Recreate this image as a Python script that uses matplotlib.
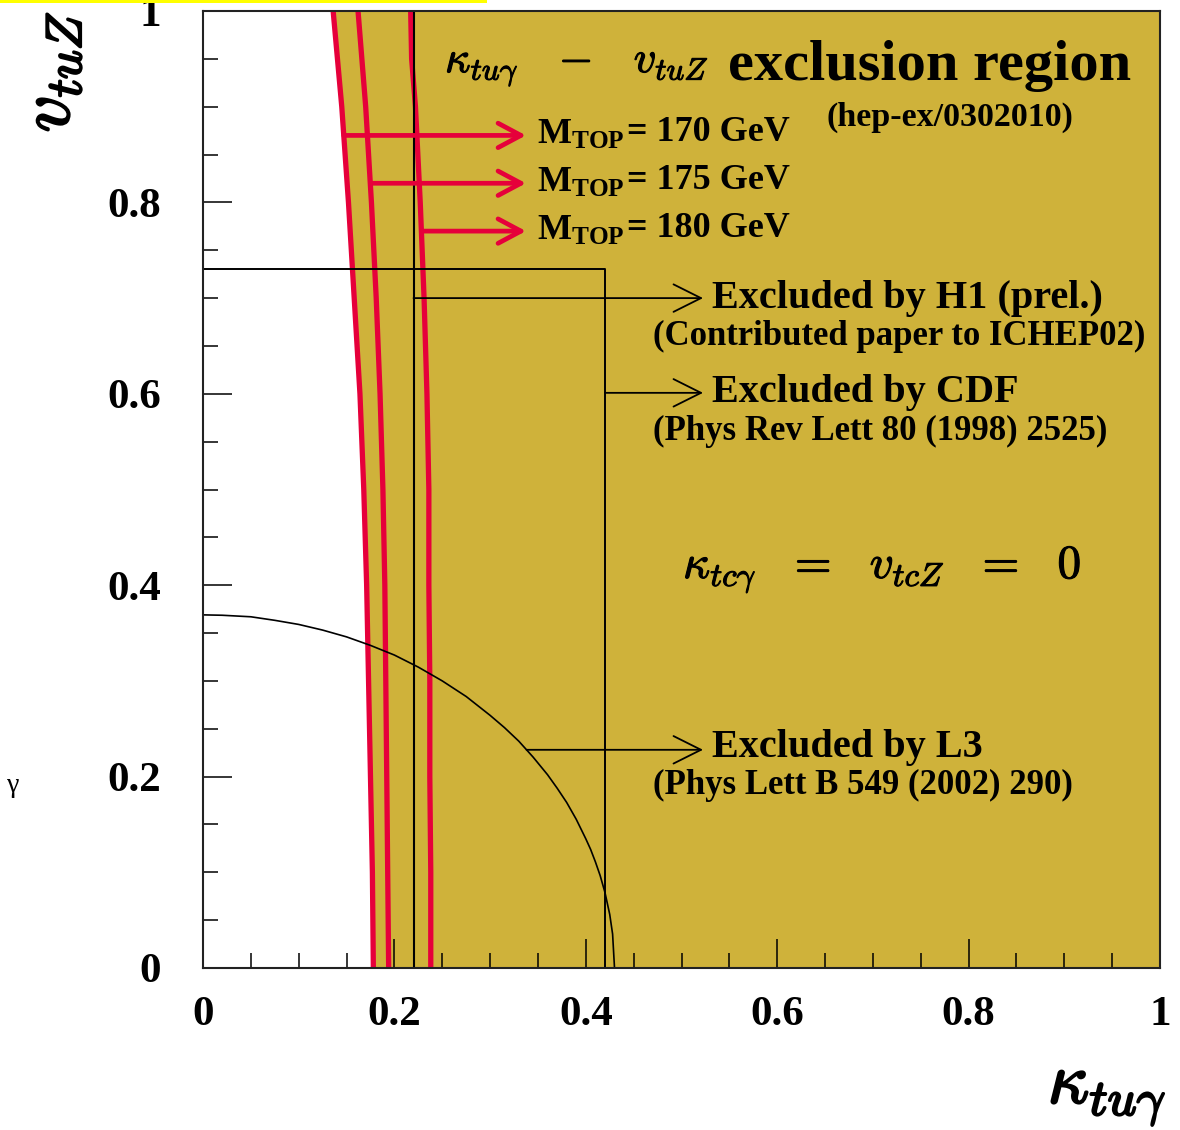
import matplotlib
matplotlib.use("Agg")
import matplotlib.pyplot as plt
import matplotlib.patheffects as pe
from matplotlib.patches import Rectangle
import numpy as np

# ---------------- data ----------------
mass_labels = ["170", "175", "180"]

y_170 = [0.0, 0.1, 0.2, 0.3, 0.4, 0.5, 0.6, 0.7, 0.8, 0.9, 1.0]
x_170 = [0.178, 0.177, 0.175, 0.173, 0.171, 0.168, 0.164, 0.158, 0.152, 0.145, 0.136]

y_175 = [0.0, 0.1, 0.2, 0.3, 0.4, 0.5, 0.6, 0.7, 0.8, 0.9, 1.0]
x_175 = [0.194, 0.193, 0.192, 0.191, 0.190, 0.188, 0.185, 0.181, 0.176, 0.170, 0.162]

y_180 = [0.0, 0.1, 0.2, 0.3, 0.4, 0.5, 0.6, 0.7, 0.8, 0.9, 0.95, 1.0]
x_180 = [0.238, 0.238, 0.237, 0.237, 0.236, 0.236, 0.234, 0.231, 0.227, 0.222, 0.218, 0.217]

mass_arrow_y = [0.870, 0.820, 0.770]

h1_x = 0.22          # H1 limit on kappa
cdf_x = 0.42         # CDF box
cdf_y = 0.73

l3_x = [0.0, 0.02, 0.05, 0.075, 0.10, 0.125, 0.15, 0.175, 0.20, 0.225, 0.25, 0.275, 0.30,
        0.315, 0.33, 0.345, 0.36, 0.37, 0.38, 0.39, 0.40, 0.405, 0.41, 0.415, 0.42, 0.425,
        0.428, 0.43]
l3_y = [0.369, 0.3686, 0.367, 0.3633, 0.359, 0.3531, 0.346, 0.3371, 0.327, 0.3144, 0.300,
        0.2837, 0.264, 0.2512, 0.237, 0.2203, 0.202, 0.188, 0.173, 0.1554, 0.135, 0.124,
        0.111, 0.0966, 0.079, 0.056, 0.0355, 0.0]

h1_arrow_y = 0.700
cdf_arrow_y = 0.601
l3_arrow_y = 0.228

xticks = [0, 0.2, 0.4, 0.6, 0.8, 1]
xticklabels = ["0", "0.2", "0.4", "0.6", "0.8", "1"]
yticks = [0, 0.2, 0.4, 0.6, 0.8, 1]
yticklabels = ["0", "0.2", "0.4", "0.6", "0.8", "1"]

# ---------------- style ----------------
plt.rcParams['font.family'] = ['Liberation Serif', 'DejaVu Serif']
plt.rcParams['mathtext.fontset'] = 'custom'
plt.rcParams['mathtext.rm'] = 'Liberation Serif:bold'
plt.rcParams['mathtext.bf'] = 'Liberation Serif:bold'
plt.rcParams['mathtext.it'] = 'Liberation Serif:italic:bold'

FILL = '#CFB23A'
RED = '#E6003A'
bold_fx = [pe.withStroke(linewidth=1.6, foreground='black')]
semi_fx = [pe.withStroke(linewidth=0.8, foreground='black')]

fig = plt.figure(figsize=(11.8, 11.3), dpi=100)
ax = fig.add_axes([203/1180, 162/1130, 957/1180, 957/1130])
ax.set_xlim(0, 1)
ax.set_ylim(0, 1)

# filled excluded region (right of 170 GeV curve)
ax.fill_betweenx(y_170, x_170, 1, color=FILL, lw=0, zorder=1)

# red curves
for xs, ys in [(x_170, y_170), (x_175, y_175), (x_180, y_180)]:
    ax.plot(xs, ys, color=RED, lw=3.8, zorder=3, solid_capstyle='butt')

# black lines
ax.plot([h1_x, h1_x], [0, 1], color='black', lw=1.5, zorder=4)
ax.plot([0, cdf_x, cdf_x], [cdf_y, cdf_y, 0], color='black', lw=1.4, zorder=4)
ax.plot(l3_x, l3_y, color='black', lw=1.2, zorder=4)

# red arrows with mass labels
arrow_end = 0.3375
for xs, ys, lab, ya in zip([x_170, x_175, x_180], [y_170, y_175, y_180], mass_labels, mass_arrow_y):
    xstart = np.interp(ya, ys, xs)
    ax.annotate("", xy=(arrow_end, ya), xytext=(xstart, ya),
                arrowprops=dict(arrowstyle='->,head_length=0.75,head_width=0.4',
                                color=RED, lw=3.4, shrinkA=0, shrinkB=0, mutation_scale=22),
                zorder=5)
    ax.text(0.349, ya, r'$\mathrm{M}_{\mathrm{TOP}}$',
            fontsize=26, ha='left', va='center', zorder=6, math_fontfamily='custom')
    ax.text(0.443, ya + 0.003, "= " + lab + " GeV", fontsize=26, fontweight='bold',
            ha='left', va='center', zorder=6)

# black arrows
arr_end = 0.5225
l3_start = np.interp(l3_arrow_y, l3_y[::-1], l3_x[::-1])
for xs, ya in [(h1_x, h1_arrow_y), (cdf_x, cdf_arrow_y), (l3_start, l3_arrow_y)]:
    ax.annotate("", xy=(arr_end, ya), xytext=(xs, ya),
                arrowprops=dict(arrowstyle='->,head_length=0.9,head_width=0.45',
                                color='black', lw=1.3, shrinkA=0, shrinkB=0, mutation_scale=22),
                zorder=5)

# annotation texts
MAIN = 29
SUB = 25
ax.text(0.532, h1_arrow_y, "Excluded by H1 (prel.)", fontsize=MAIN, fontweight='bold',
        ha='left', va='center', zorder=6)
ax.text(0.470, 0.660, "(Contributed paper to ICHEP02)", fontsize=SUB, fontweight='bold',
        ha='left', va='center', zorder=6)
ax.text(0.532, cdf_arrow_y, "Excluded by CDF", fontsize=MAIN, fontweight='bold',
        ha='left', va='center', zorder=6)
ax.text(0.470, 0.561, "(Phys Rev Lett 80 (1998) 2525)", fontsize=SUB, fontweight='bold',
        ha='left', va='center', zorder=6)
ax.text(0.532, l3_arrow_y + 0.002, "Excluded by L3", fontsize=MAIN, fontweight='bold',
        ha='left', va='center', zorder=6)
ax.text(0.470, 0.191, "(Phys Lett B 549 (2002) 290)", fontsize=SUB, fontweight='bold',
        ha='left', va='center', zorder=6)

# title
ax.text(0.2529, 0.940, r'$\kappa_{tu\gamma}\;\;\;-\;\;\;v_{tuZ}$', fontsize=32, ha='left', va='center',
        math_fontfamily='cm', zorder=6, path_effects=semi_fx)
ax.text(0.5486, 0.928, "exclusion region", fontsize=42, fontweight='bold',
        ha='left', va='baseline', zorder=6)
ax.text(0.652, 0.889, "(hep-ex/0302010)", fontsize=24.5, fontweight='bold',
        ha='left', va='center', zorder=6)

ax.text(0.5016, 0.416, r'$\kappa_{tc\gamma}\;\;\,=\;\;\,v_{tcZ}\;\;\,=\;\;\,0$', fontsize=34,
        ha='left', va='center', math_fontfamily='cm', zorder=6, path_effects=semi_fx)

# ticks
ax.set_xticks(xticks)
ax.set_xticklabels(xticklabels)
ax.set_yticks(yticks)
ax.set_yticklabels(yticklabels)
ax.set_xticks(np.arange(0, 1.0001, 0.05), minor=True)
ax.set_yticks(np.arange(0, 1.0001, 0.05), minor=True)
ax.tick_params(which='both', direction='in', top=False, right=False, color='black', width=1.1)
ax.tick_params(which='major', length=21, labelsize=31)
ax.tick_params(which='minor', length=10.5)
ax.tick_params(axis='x', which='major', pad=20)
ax.tick_params(axis='y', which='major', pad=30)
for lab in ax.get_xticklabels() + ax.get_yticklabels():
    lab.set_fontweight('bold')

for s in ax.spines.values():
    s.set_linewidth(1.5)
    s.set_color('#222222')
    s.set_zorder(7)

# axis labels
fig.text(1166/1180, 1 - 1096/1130, r'$\kappa_{tu\gamma}$', fontsize=52, ha='right', va='center',
         math_fontfamily='cm', path_effects=bold_fx)
fig.text(52/1180, 1 - 72/1130, r'$v_{tuZ}$', fontsize=52, ha='center', va='center', rotation=90,
         math_fontfamily='cm', path_effects=bold_fx)

# stray artifacts of the original screenshot
fig.patches.append(Rectangle((0, 1 - 3/1130), 487/1180, 3/1130, transform=fig.transFigure,
                             color='#FFFF00', lw=0))
fig.text(13/1180, 1 - 785/1130, "γ", fontsize=20, ha='center', va='center')

fig.savefig("out.png", dpi=100)
